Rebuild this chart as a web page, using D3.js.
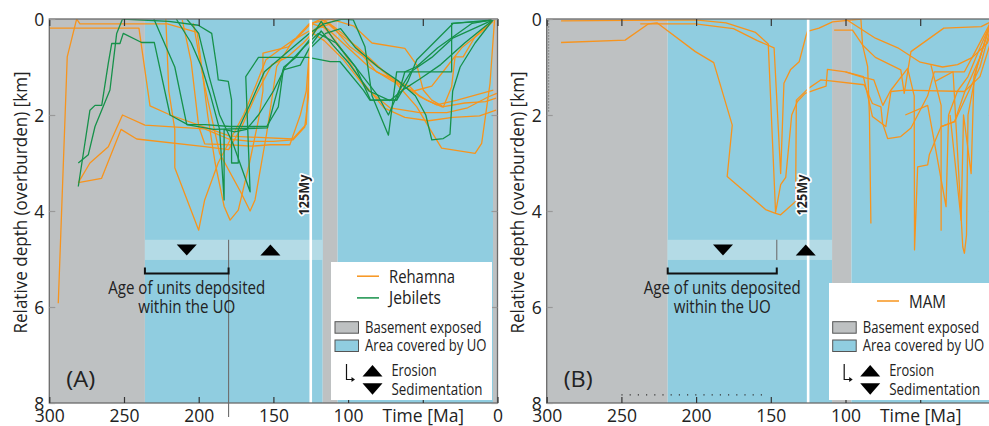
<!DOCTYPE html>
<html><head><meta charset="utf-8">
<script src="https://cdn.jsdelivr.net/npm/d3@7"></script>
<style>body{margin:0;background:#fff} svg{display:block} text{font-family:"Open Sans",sans-serif;fill:#222}</style>
</head><body><svg id="c" width="989" height="426"></svg>
<script>
// ---------- data ----------
const xTicks = [300, 250, 200, 150, 100, 50, 0];
const xTickLabels = ["300", "250", "200", "150", "100", "Time [Ma]", "0"];
const yTicks = [0, 2, 4, 6, 8];
const yTickLabels = ["0", "2", "4", "6", "8"];
const regionsA = [["basement", 300, 236], ["uo", 236, 117], ["basement", 117, 107], ["uo", 107, 3], ["basement", 3, 0]];
const regionsB = [["basement", 300, 219], ["uo", 219, 109], ["basement", 109, 96], ["uo", 96, 0]];
const bandA = [236, 117], splitA = 180, trianglesA = [["down", 208], ["up", 152]];
const bandB = [219, 109], splitB = 146, trianglesB = [["down", 182], ["up", 126.6]];
const markerTime = 125;
const dottedB = [250, 152];

const rehamna = [
  [[294,5.92],[288,0.79],[281.7,0],[279.5,0.1],[221,0.1],[201,0.28],[198,1.0],[194,2.0],[189,3.0],[183,3.9],[179,4.19],[173.5,3.98],[166,3.0],[160,2.1],[157,1.5],[157,0.71],[140,0.58],[125,0.1],[118,0.0],[110,0.15],[101,0.37],[81,1.1],[58.6,1.41],[52,1.62],[40.7,1.79],[27,1.69],[2.8,1.48]],
  [[300,0.19],[240,0.19],[232.6,1.81],[219,2.0],[179,2.44],[137,2.5],[128,2.19],[126.5,1.2],[124,0.25],[115,0.05],[106,0.3],[94,0.58],[69.7,1.27],[54,1.83],[45.5,2.28],[37.4,2.69],[15,2.8],[10.6,2.59],[5,1.34],[2,0.02]],
  [[280.6,3.41],[265,3.32],[252,2.3],[241.5,2.5],[196,2.66],[180,2.72],[172,2.3],[162,1.6],[151,0.95],[141,0.8],[130,0.5],[121,0.2],[112,0.1],[98.7,0.58],[80,1.0],[69.7,1.27],[47.4,1.69],[37,1.83],[22,1.75],[8,1.72],[1,1.65]],
  [[280.6,3.41],[272.8,3.0],[260.5,2.66],[251,2.0],[236,2.21],[196,2.29],[180,2.5],[165,2.55],[150,2.55],[137,2.52],[129,2.25],[126.5,1.6],[125.5,0.4],[118,0.1],[106,0.55],[92,1.25],[76,1.85],[62,2.05],[46,2.12],[30,2.05],[12,2.02],[1,1.9]],
  [[222,0.0],[220,1.5],[216,2.3],[216,3.1],[200,4.4],[196,3.77],[187,3.0],[179,2.52],[170,2.0],[162,1.4],[155,0.85],[145,0.62],[135,0.4],[126,0.1],[112,0.0],[96,0.15],[84,0.5],[62,0.61],[54,0.96],[49.7,1.48],[44,1.69],[36.2,1.83],[30.7,1.41],[28.4,0.79],[23,0.79],[15,0.37],[3,0.02]],
  [[203.6,0.09],[196,1.4],[186,2.8],[172,3.6],[165.6,4.0],[162.3,3.77],[154.5,2.38],[147.8,0.99],[136.7,0.44],[126,0.25],[116,0.45],[103,0.85],[88,1.45],[72,1.85],[52,1.95],[34,1.95],[20,1.85],[6,1.62],[0.5,1.55]],
  [[211,0.02],[205,0.9],[200,2.24],[196,2.6],[180,2.62],[165,2.65],[152,2.62],[139,2.62],[132,2.0],[128,1.5],[126,0.7],[124,0.1],[114,0.2],[100,0.6],[86,1.0],[70,1.3],[56,1.5],[44,1.4],[34,1.0],[24,0.6],[12,0.3],[3,0.05]]
];
const jebilets = [
  [[280.6,3.49],[272.8,1.9],[269.4,1.8],[264.9,1.8],[260.5,0.92],[258.2,0.51],[252.7,0.51],[250.5,0.3],[238.2,0.49],[229.7,0.49],[219.2,2.0],[207.4,2.2],[195.8,2.2],[179,2.24],[154.5,2.24],[146.7,1.83],[143.4,1.06],[132,0.96],[125,0.55],[118,0.25],[110,0.55],[100,0.9],[86,1.5],[72,1.7],[62,1.45],[52,1.25],[38,0.95],[22,0.5],[3,0.02]],
  [[280.6,3.0],[273.9,2.83],[269.4,2.24],[259.4,1.48],[254.9,0.3],[251,0.0],[220,0.05],[200.3,0.13],[191.3,0.3],[188,0.99],[186.9,1.27],[180.2,1.3],[178,1.69],[178,3.0],[173.5,3.0],[173.5,2.3],[166,1.8],[156,1.1],[141,0.7],[126,0.3],[116,0.1],[104,0.0],[96.5,0.02],[88.7,0.58],[84,1.6],[73,2.42],[67.5,1.1],[30.7,1.1],[30.7,0.09],[10,0.05],[3,0.02]],
  [[215,0.0],[205,0.5],[198,1.0],[192,1.6],[186,2.3],[183,3.77],[183,2.3],[176,2.35],[168,2.3],[160,2.0],[150,1.5],[142,1.0],[130,0.6],[120,0.3],[108,0.5],[95,1.0],[85,1.69],[67.5,1.69],[60,1.3],[54,0.85],[29.6,0.09],[3,0.02]],
  [[208,0.0],[200,0.3],[193,1.2],[186,2.0],[177,2.6],[165.6,3.6],[168.5,1.2],[160,0.8],[126.7,0.8],[112,0.89],[105.4,0.89],[89.8,1.48],[85.4,1.69],[67.5,1.69],[62,1.1],[54,0.99],[40,0.6],[17,0.09],[3.9,0.02]],
  [[125,0.6],[115,0.3],[105,0.2],[95,0.6],[80,1.0],[66,1.3],[55,1.6],[48,2.0],[44,2.52],[36.3,2.49],[31.8,2.4],[30,1.5],[25,1.0],[15,0.5],[3,0.02]],
  [[230,0.0],[216,1.0],[208,2.2],[190,2.3],[154,2.27],[150,1.8],[143,1.0],[135,0.8],[125,0.4],[118,0.05],[108,0.5],[100,0.8],[90,1.2],[80,1.6],[73,2.0],[66,1.5],[58,1.1],[44,0.8],[30,0.4],[3,0.02]]
];
const mam = [
  [[290.4,0.49],[247.5,0.44],[231.8,0.1],[226.2,0.08],[200.5,0.68],[188.2,0.91],[175.8,2.21],[179.2,3.28],[153.5,3.97],[146.8,4.05],[143.4,4.08],[133.4,3.8],[132.9,1.69],[125,1.45],[116.6,1.27],[113.2,1.28],[87.5,1.37],[82,1.76],[76.3,1.83],[75.2,2.17],[71.8,2.49],[63,2.45],[56.2,2.27],[45,1.6],[40.6,1.1],[20.4,1.1],[13.7,0.71],[3.2,0.09]],
  [[290.4,0.04],[200.5,0.02],[180,0.08],[160.2,0.28],[151.7,0.52],[146.8,4.03],[143.4,3.45],[140,3.3],[136,2.0],[132.2,1.72],[127,1.55],[118,1.45],[113,1.4],[112.1,1.05],[100,1.1],[88,1.2],[82,2.03],[73,2.24],[69.6,1.51],[60,1.48],[20.4,1.51],[10,1.2],[3,0.5]],
  [[237.4,0.1],[200.5,0.1],[175,0.2],[159,0.45],[147.8,0.6],[143.4,3.22],[141.2,1.34],[136.7,1.05],[131,0.89],[126.6,0.37],[125.5,0.26],[117.7,0.19],[108.7,0.06],[89.7,0.0],[88.6,0.54],[85.2,0.99],[84,2.0],[83,4.26]],
  [[107.6,0.23],[95.3,0.23],[88.6,0.54],[80,0.8],[63,1.06],[60.7,1.55],[56.2,0.68],[34.2,0.19],[9.2,0.16],[2,0.05]],
  [[100,1.1],[90,1.2],[81,1.27],[75,1.8],[70,1.5],[58.4,1.03],[54,1.6],[53.8,4.81],[51.7,3.08],[45,3.04],[43.9,2.83],[36,2.24],[27,2.14],[18.2,1.55],[10,1.0],[3,0.2]],
  [[42.8,0.96],[36,1.8],[36,4.4],[36,2.24],[27,2.14],[20,1.5],[10,0.8],[3,0.1]],
  [[60,2.0],[45,1.8],[32.7,3.91],[31,2.0],[25,1.5],[18,1.2],[10,0.6],[3,0.1]],
  [[40,1.3],[28,1.1],[21.5,4.75],[20.4,4.88],[19,4.5],[18,2.0],[12,1.0],[5,0.3],[2,0.05]],
  [[30,2.0],[22.6,4.19],[21,2.0],[15.9,3.22],[14,1.2],[8,0.6],[3,0.05]],
  [[100,0.0],[80,0.4],[65,0.6],[50,0.9],[35,1.0],[25,0.95],[15,0.8],[5,0.5],[2,0.2]]
];

// ---------- style ----------
const C = {basement:"#bec1c2", uo:"#90cde0", band:"#b4dbe6", orange:"#f7941d", green:"#16914a", frame:"#6a6a6a"};
const svg = d3.select("#c");
const y = d3.scaleLinear().domain([0, 8]).range([19, 403]);

function txt(g, x, yy, s, size, len, anchor) {
  const t = g.append("text").attr("x", x).attr("y", yy).attr("font-size", size)
    .attr("text-anchor", anchor || "start").text(s);
  if (len) t.attr("textLength", len).attr("lengthAdjust", "spacingAndGlyphs");
  return t;
}
function tri(g, cx, cy, dir, w, h) {
  const p = dir === "up"
    ? [[cx - w/2, cy + h/2], [cx + w/2, cy + h/2], [cx, cy - h/2]]
    : [[cx - w/2, cy - h/2], [cx + w/2, cy - h/2], [cx, cy + h/2]];
  g.append("path").attr("d", "M" + p.join("L") + "Z").attr("fill", "#000");
}

function panel(o) {
  const x = d3.scaleLinear().domain([300, 0]).range([o.x0, o.x0 + 448.2]);
  const g = svg.append("g");
  const clipId = "clip" + o.id;
  svg.append("clipPath").attr("id", clipId).append("rect")
    .attr("x", x(300)).attr("y", y(0)).attr("width", x(0) - x(300)).attr("height", y(8) - y(0));
  const pg = g.append("g").attr("clip-path", `url(#${clipId})`);
  pg.selectAll("rect.reg").data(o.regions).join("rect").attr("class", "reg")
    .attr("x", d => x(d[1])).attr("width", d => x(d[2]) - x(d[1]))
    .attr("y", y(0)).attr("height", y(8) - y(0)).attr("fill", d => C[d[0]]);
  // band
  pg.append("rect").attr("x", x(o.band[0])).attr("width", x(o.band[1]) - x(o.band[0]))
    .attr("y", y(4.6)).attr("height", y(5.02) - y(4.6)).attr("fill", C.band);
  // data lines
  const line = d3.line().x(d => x(d[0])).y(d => y(d[1]));
  o.series.forEach(s => {
    pg.append("g").selectAll("path").data(s.data).join("path")
      .attr("d", line).attr("fill", "none").attr("stroke", s.color)
      .attr("stroke-width", 1.3).attr("stroke-linejoin", "round");
  });
  // white 125 line
  pg.append("line").attr("x1", x(markerTime)).attr("x2", x(markerTime)).attr("y1", y(0)).attr("y2", y(8))
    .attr("stroke", "#fff").attr("stroke-width", 2.6);
  // band split
  g.append("line").attr("x1", x(o.split)).attr("x2", x(o.split)).attr("y1", y(4.6))
    .attr("y2", o.splitLong ? 417 : y(5.02)).attr("stroke", "#6e6e6e").attr("stroke-width", 1.1);
  o.triangles.forEach(t => tri(g, x(t[1]), y(4.81), t[0], 20, 11));
  // bracket
  const by = y(5.3);
  g.append("path").attr("d", `M${x(o.band[0])},${by-6}V${by}H${x(o.split)}V${by-6}`)
    .attr("fill", "none").attr("stroke", "#111").attr("stroke-width", 2);
  const mid = (x(o.band[0]) + x(o.split)) / 2 + o.ageShift;
  txt(g, mid, 293.5, "Age of units deposited", 17.5, 157, "middle");
  txt(g, mid, 312.5, "within the UO", 17.5, 97, "middle");
  // dotted lines (B only)
  if (o.dotted) {
    g.append("line").attr("x1", x(o.dotted[0])).attr("x2", x(o.dotted[1])).attr("y1", y(7.83)).attr("y2", y(7.83))
      .attr("stroke", "#333").attr("stroke-width", 1.2).attr("stroke-dasharray", "1.2,7");
    g.append("line").attr("x1", x(300) + 2).attr("x2", x(300) + 2).attr("y1", y(0.03)).attr("y2", y(1.95))
      .attr("stroke", "#555").attr("stroke-width", 1).attr("stroke-dasharray", "1,2");
  }
  // frame
  g.append("rect").attr("x", x(300)).attr("y", y(0)).attr("width", x(0) - x(300)).attr("height", y(8) - y(0))
    .attr("fill", "none").attr("stroke", C.frame).attr("stroke-width", 1.3);
  // axes
  const fmtX = d => xTickLabels[xTicks.indexOf(d)];
  const ax = g.append("g").attr("transform", `translate(0,${y(8)})`)
    .call(d3.axisBottom(x).tickValues(xTicks).tickFormat(fmtX).tickSizeInner(-6).tickSizeOuter(0).tickPadding(13));
  const at = g.append("g").attr("transform", `translate(0,${y(0)})`)
    .call(d3.axisTop(x).tickValues(xTicks).tickFormat("").tickSizeInner(-7).tickSizeOuter(0));
  const ay = g.append("g").attr("transform", `translate(${x(300)},0)`)
    .call(d3.axisLeft(y).tickValues(yTicks).tickFormat((d, i) => yTickLabels[i]).tickSizeInner(-6).tickSizeOuter(0).tickPadding(5));
  const ar = g.append("g").attr("transform", `translate(${x(0)},0)`)
    .call(d3.axisRight(y).tickValues(yTicks).tickFormat("").tickSizeInner(-6).tickSizeOuter(0));
  [ax, at, ay, ar].forEach(a => {
    a.select(".domain").remove();
    a.selectAll(".tick line").attr("stroke", "#333").attr("stroke-width", 1.2);
    a.selectAll("text").attr("font-size", 17.5).attr("fill", "#222").attr("font-family", '"Open Sans",sans-serif');
  });
  ay.selectAll(".tick line").attr("stroke", "#999");
  ar.selectAll(".tick line").attr("stroke", "#999");
  ax.selectAll("text").attr("dy", "0.35em");
  ay.selectAll("text").attr("dy", "0.36em");
  // y label
  txt(g.append("g").attr("transform", `translate(${x(300) - 22.5},202.5) rotate(-90)`), 0, 0,
      "Relative depth (overburden) [km]", 17.5, 262, "middle");
  // panel letter
  txt(g, x(300) + 17, 387, o.letter, 22, 29);
  // 125My label
  g.append("text").attr("transform", `translate(${x(markerTime) - 1.5},195) rotate(-90)`)
    .attr("text-anchor", "middle").attr("font-size", 14).attr("font-weight", "bold")
    .attr("textLength", 41).attr("lengthAdjust", "spacingAndGlyphs")
    .attr("stroke", "#fff").attr("stroke-width", 3.5).attr("paint-order", "stroke").attr("stroke-linejoin", "round")
    .attr("fill", "#000").text("125My");
  // legend
  const L = o.legend;
  g.append("rect").attr("x", L.x).attr("y", L.y).attr("width", L.w).attr("height", 400 - L.y).attr("fill", "#fff");
  o.series.forEach((s, i) => {
    const ly = L.lineY + i * 21.7;
    g.append("line").attr("x1", L.lx).attr("x2", L.lx + 22).attr("y1", ly).attr("y2", ly)
      .attr("stroke", s.color).attr("stroke-width", 1.5);
    txt(g, L.lx + 32, ly + 6.5, s.name, 17.5, s.len);
  });
  [["basement", 321.7, "Basement exposed", 116.5, 333.3], ["uo", 340, "Area covered by UO", 121.5, 351.2]].forEach(r => {
    g.append("rect").attr("x", L.rx).attr("y", r[1]).attr("width", 23.5).attr("height", 11.5)
      .attr("fill", C[r[0]]).attr("stroke", "#555").attr("stroke-width", 1);
    txt(g, L.rx + 30, r[4], r[2], 16.5, r[3]);
  });
  const axx = L.rx + 11.5;
  g.append("path").attr("d", `M${axx},364V379.5H${axx + 6}`).attr("fill", "none").attr("stroke", "#111").attr("stroke-width", 1.2);
  g.append("path").attr("d", `M${axx + 8.5},379.5L${axx + 5},377L${axx + 5},382Z`).attr("fill", "#111");
  tri(g, L.rx + 37.5, 370.8, "up", 20, 11.5);
  tri(g, L.rx + 37.5, 389, "down", 20, 11.5);
  txt(g, L.rx + 56.5, 375.8, "Erosion", 16.5, 45);
  txt(g, L.rx + 56.5, 395, "Sedimentation", 16.5, 91);
}

panel({id: "A", x0: 49.3, letter: "(A)", regions: regionsA, band: bandA, split: splitA, splitLong: true,
  triangles: trianglesA, ageShift: 0,
  series: [{name: "Rehamna", color: C.orange, data: rehamna, len: 66}, {name: "Jebilets", color: C.green, data: jebilets, len: 52}],
  legend: {x: 331, y: 262, w: 161, lineY: 276.2, lx: 357, rx: 335}});
panel({id: "B", x0: 546.7, letter: "(B)", regions: regionsB, band: bandB, split: splitB, splitLong: false,
  triangles: trianglesB, ageShift: 0, dotted: dottedB,
  series: [{name: "MAM", color: C.orange, data: mam, len: 37}],
  legend: {x: 829, y: 283, w: 170, lineY: 301, lx: 877, rx: 832.7}});
</script></body></html>
